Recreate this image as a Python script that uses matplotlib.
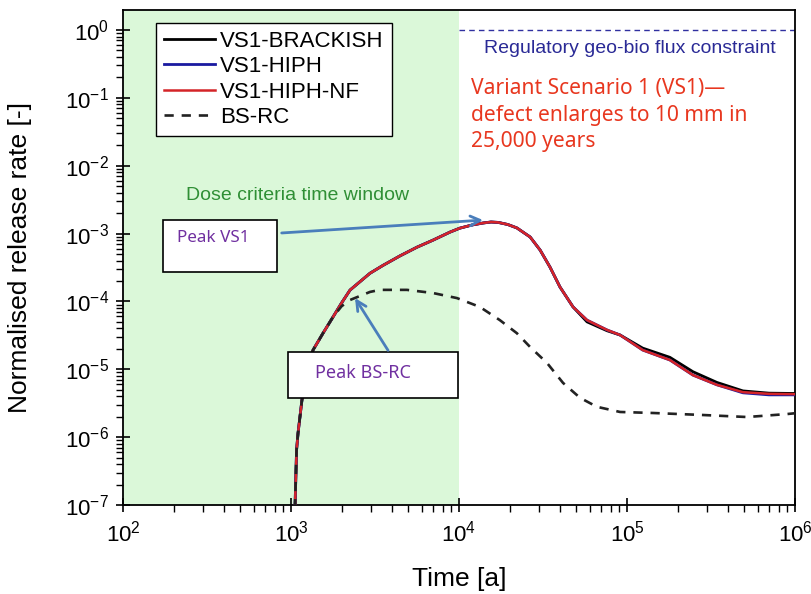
import matplotlib
matplotlib.use("Agg")
import matplotlib.pyplot as plt
from matplotlib.patches import Rectangle
from matplotlib.ticker import LogLocator, NullFormatter

plt.rcParams['font.family'] = ['Liberation Sans', 'DejaVu Sans']

# ---------------- data ----------------
t_vs1 = [1050, 1057, 1079, 1101, 1161, 1245, 1352, 1550, 1778, 2000, 2245, 2951, 3530,
         4460, 5623, 7000, 8830, 10100, 12000, 13900, 15500, 17100, 19500, 22100, 26500,
         30400, 34800, 39900, 47700, 57800, 76000, 90900, 124000, 180000, 247000, 343000,
         490000, 700000, 1000000]
r_brackish = [5e-8, 1e-7, 6.5e-7, 1.15e-6, 3.5e-6, 1e-5, 1.92e-5, 3.4e-5, 5.9e-5, 9.5e-5,
              1.47e-4, 2.6e-4, 3.4e-4, 4.7e-4, 6.3e-4, 8.0e-4, 1.05e-3, 1.2e-3, 1.34e-3,
              1.43e-3, 1.48e-3, 1.46e-3, 1.36e-3, 1.21e-3, 8.9e-4, 5.7e-4, 3.2e-4, 1.63e-4,
              8.3e-5, 5.0e-5, 3.7e-5, 3.2e-5, 2.05e-5, 1.5e-5, 9.2e-6, 6.4e-6, 4.8e-6,
              4.45e-6, 4.4e-6]
r_hiph = [5e-8, 1e-7, 6.5e-7, 1.15e-6, 3.5e-6, 1e-5, 1.92e-5, 3.4e-5, 5.9e-5, 9.5e-5,
          1.47e-4, 2.6e-4, 3.4e-4, 4.7e-4, 6.3e-4, 8.0e-4, 1.05e-3, 1.2e-3, 1.34e-3,
          1.43e-3, 1.48e-3, 1.46e-3, 1.36e-3, 1.21e-3, 8.9e-4, 5.7e-4, 3.2e-4, 1.63e-4,
          8.3e-5, 5.3e-5, 3.8e-5, 3.2e-5, 1.92e-5, 1.37e-5, 8.2e-6, 5.9e-6, 4.5e-6,
          4.2e-6, 4.2e-6]
r_hiph_nf = [5e-8, 1e-7, 6.5e-7, 1.15e-6, 3.5e-6, 1e-5, 1.92e-5, 3.4e-5, 5.9e-5, 9.5e-5,
             1.47e-4, 2.6e-4, 3.4e-4, 4.7e-4, 6.3e-4, 8.0e-4, 1.05e-3, 1.2e-3, 1.34e-3,
             1.43e-3, 1.48e-3, 1.46e-3, 1.36e-3, 1.21e-3, 8.9e-4, 5.7e-4, 3.2e-4, 1.63e-4,
             8.3e-5, 5.3e-5, 3.8e-5, 3.2e-5, 1.92e-5, 1.37e-5, 8.2e-6, 5.9e-6, 4.6e-6,
             4.35e-6, 4.3e-6]

t_bsrc = [1050, 1057, 1079, 1101, 1161, 1245, 1352, 1550, 1778, 2000, 2245, 2951, 3380,
          4900, 7000, 9720, 13300, 17500, 22100, 26500, 33400, 41600, 52500, 66200, 90900,
          143000, 283000, 518000, 896000, 1000000]
r_bsrc = [5e-8, 1e-7, 6.5e-7, 1.15e-6, 3.5e-6, 1e-5, 1.92e-5, 3.4e-5, 5.9e-5, 8.5e-5,
          1.05e-4, 1.38e-4, 1.48e-4, 1.48e-4, 1.33e-4, 1.12e-4, 8.3e-5, 5.3e-5, 3.4e-5,
          2.13e-5, 1.24e-5, 6.3e-6, 3.8e-6, 2.8e-6, 2.35e-6, 2.27e-6, 2.12e-6, 1.98e-6,
          2.19e-6, 2.25e-6]

dose_window = [1e2, 1e4]
constraint_x = [1e4, 1e6]
constraint_y = [1.0, 1.0]

peak_vs1 = (13900, 1.58e-3)
peak_vs1_tail = (880, 1.02e-3)
peak_bsrc = (2405, 1.12e-4)
peak_bsrc_tail = (3780, 1.9e-5)

labels = ['VS1-BRACKISH', 'VS1-HIPH', 'VS1-HIPH-NF', 'BS-RC']
vs1_note = ['Variant Scenario 1 (VS1)\u2014', 'defect enlarges to 10 mm in', '25,000 years']

# ---------------- figure ----------------
fig = plt.figure(figsize=(8.11, 5.94), dpi=100)
ax = fig.add_axes([0.1517, 0.1498, 0.8286, 0.8334])
ax.set_xscale('log')
ax.set_yscale('log')
ax.set_xlim(1e2, 1e6)
ax.set_ylim(1e-7, 1.97)

ax.axvspan(dose_window[0], dose_window[1], color='#dbf8d9', zorder=0, lw=0)

ax.plot(constraint_x, constraint_y, color='#3030a0', lw=1.0, dashes=(4, 3), zorder=2)

ax.plot(t_vs1, r_brackish, color='black', lw=2.0, label=labels[0], zorder=3)
ax.plot(t_vs1, r_hiph, color='#1a1aa0', lw=2.0, label=labels[1], zorder=4)
ax.plot(t_vs1, r_hiph_nf, color='#d42428', lw=1.8, label=labels[2], zorder=5)
ax.plot(t_bsrc, r_bsrc, color='#222222', lw=1.9, dashes=(3.5, 3), label=labels[3], zorder=6)

leg = ax.legend(loc='upper left', bbox_to_anchor=(0.049, 0.974), fontsize=16,
                frameon=True, fancybox=False, edgecolor='black', framealpha=1,
                handlelength=2.3, handletextpad=0.25, labelspacing=0.2,
                borderpad=0.35, borderaxespad=0)
leg.get_frame().set_linewidth(1.0)

# texts
ax.text(0.259, 0.626, 'Dose criteria time window', transform=ax.transAxes,
        ha='center', va='center', fontsize=14, color='#2f8f35')
ax.text(0.754, 0.923, 'Regulatory geo-bio flux constraint', transform=ax.transAxes,
        ha='center', va='center', fontsize=14, color='#2a2a96')
for line, yy in zip(vs1_note, [0.842, 0.786, 0.735]):
    ax.text(0.518, yy, line, transform=ax.transAxes, ha='left', va='center',
            fontsize=15.1, color='#e8371f', family=['Noto Sans', 'DejaVu Sans'])

# boxes
ax.add_patch(Rectangle((0.0595, 0.471), 0.1695, 0.105, transform=ax.transAxes,
                       facecolor='white', edgecolor='black', lw=1.2, zorder=7))
ax.text(0.0804, 0.539, 'Peak VS1', transform=ax.transAxes, ha='left', va='center',
        fontsize=12.3, color='#7030a0', family=['Noto Sans', 'DejaVu Sans'], zorder=8)
ax.add_patch(Rectangle((0.2455, 0.216), 0.253, 0.093, transform=ax.transAxes,
                       facecolor='white', edgecolor='black', lw=1.2, zorder=7))
ax.text(0.2857, 0.267, 'Peak BS-RC', transform=ax.transAxes, ha='left', va='center',
        fontsize=13, color='#7030a0', family=['Noto Sans', 'DejaVu Sans'], zorder=8)

arrow_kw = dict(arrowstyle='->,head_length=0.7,head_width=0.35', color='#4a7ebb', lw=2,
                shrinkA=0, shrinkB=0)
ax.annotate('', xy=peak_vs1, xytext=peak_vs1_tail, arrowprops=arrow_kw, zorder=9)
ax.annotate('', xy=peak_bsrc, xytext=peak_bsrc_tail, arrowprops=arrow_kw, zorder=9)

# axes styling
ax.set_xlabel('Time [a]', fontsize=19, labelpad=15)
ax.set_ylabel('Normalised release rate [-]', fontsize=19, labelpad=24)
for s in ax.spines.values():
    s.set_linewidth(1.3)
ax.xaxis.set_major_locator(LogLocator(base=10, numticks=10))
ax.yaxis.set_major_locator(LogLocator(base=10, numticks=12))
ax.xaxis.set_minor_locator(LogLocator(base=10, subs=range(2, 10), numticks=12))
ax.yaxis.set_minor_locator(LogLocator(base=10, subs=range(2, 10), numticks=12))
ax.xaxis.set_minor_formatter(NullFormatter())
ax.yaxis.set_minor_formatter(NullFormatter())
ax.tick_params(which='major', direction='inout', length=10, width=1.2, labelsize=16,
               top=False, right=False)
ax.tick_params(which='minor', direction='out', length=5, width=1.0, top=False, right=False)
ax.tick_params(axis='x', which='major', pad=6)
ax.tick_params(axis='y', which='major', pad=5)

fig.savefig('out.png', dpi=100)
